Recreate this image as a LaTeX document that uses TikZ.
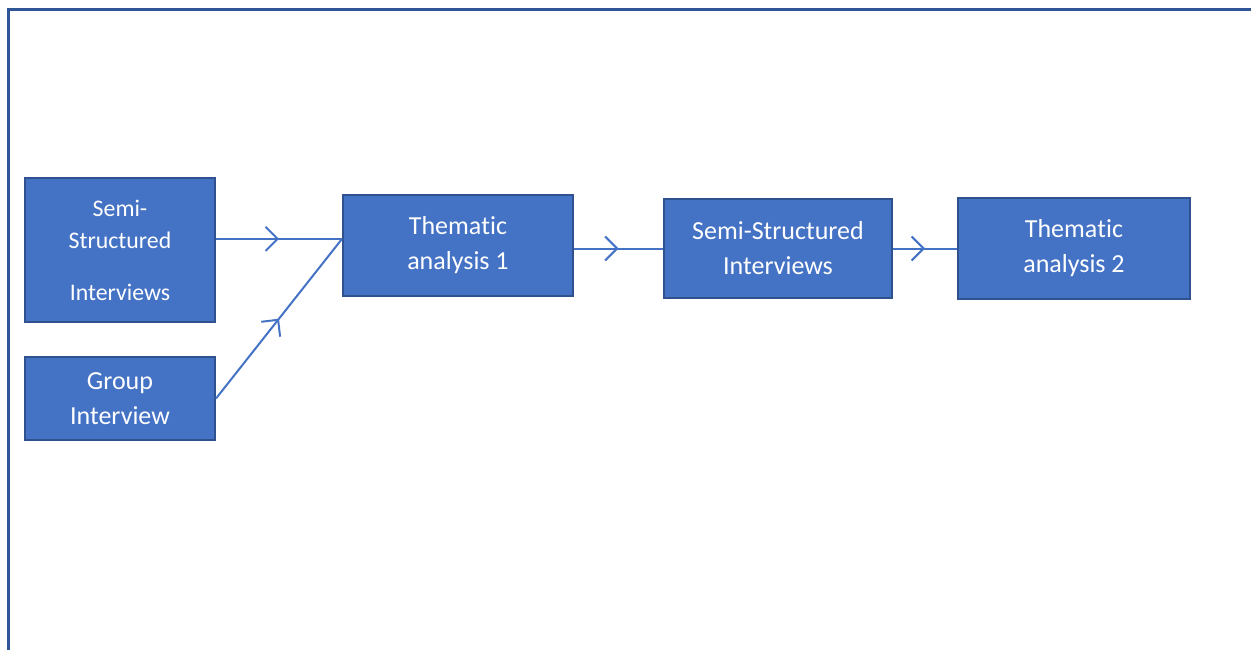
\documentclass[tikz,border=0pt]{standalone}
\usepackage{fontspec}
\setmainfont{Carlito}[Ligatures={NoCommon,NoContextual,NoRare,NoRequired},RawFeature={-calt}]
\usetikzlibrary{arrows.meta,decorations.markings,calc}
\definecolor{boxfill}{RGB}{68,114,196}
\definecolor{boxedge}{RGB}{47,82,143}
\definecolor{framecol}{RGB}{47,85,151}
% keep "t" and "i" as separate glyphs
\newcommand{\thematicword}{Thema\kern0pt tic}
\tikzset{
  stagebox/.style={rectangle, fill=boxfill, draw=boxedge, line width=2pt,
    text=white, inner sep=0pt, align=center,
    font=\fontsize{26}{35}\selectfont},
  flow/.style={draw=boxfill, line width=2pt,
    postaction={decorate},
    decoration={markings, mark=at position 0.5 with
      {\arrow[boxfill]{Straight Barb[length=12pt,width=24pt,line width=2pt]}}}},
  framing/.style={draw=framecol, line width=3pt}
}
\begin{document}
\begin{tikzpicture}[x=1pt,y=-1pt]
\useasboundingbox (0,0) rectangle (1251,650);
% outer frame (top and left edges)
\draw[framing] (8,670) -- (8,10) -- (1270,10);

% stage boxes
\node[stagebox, minimum width=190pt, minimum height=144pt,
      font=\fontsize{23.8}{32}\selectfont] (semi1) at (120,250)
  {Semi-\\Structured\\[20pt]Interviews};
\node[stagebox, minimum width=190pt, minimum height=83pt] (group) at (120,398.5)
  {Group\\Interview};
\node[stagebox, minimum width=230pt, minimum height=101pt] (them1) at (458,245.5)
  {\thematicword\\analysis 1};
\node[stagebox, minimum width=228pt, minimum height=99pt] (semi2) at (778,248.5)
  {Semi-Structured\\Interviews};
\node[stagebox, minimum width=232pt, minimum height=101pt] (them2) at (1074,248.5)
  {\thematicword\\analysis 2};

% connectors
\coordinate (cin) at ($(them1.north west)!0.436!(them1.south west)$);
\draw[flow] (semi1.east |- cin) -- (cin);
\draw[flow] (group.east) -- (cin);
\draw[flow] (semi2.west -| them1.east) -- (semi2.west);
\draw[flow] (semi2.east) -- (them2.west);
\end{tikzpicture}
\end{document}
